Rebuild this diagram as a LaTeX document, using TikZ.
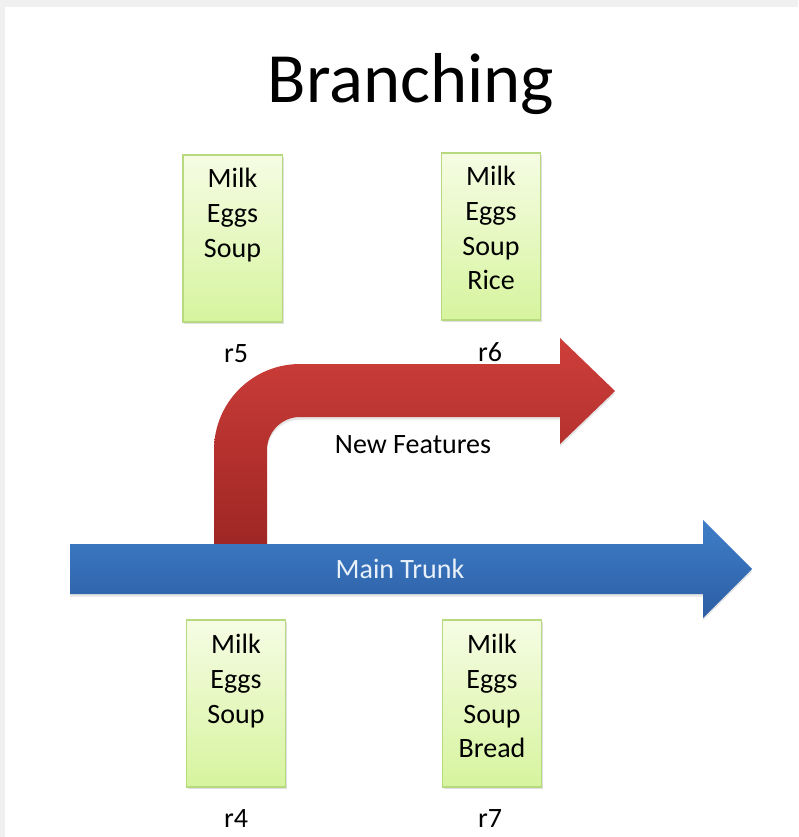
\documentclass[tikz,border=0pt]{standalone}
\usepackage{fontspec}
\setmainfont{Carlito}
\usetikzlibrary{shadows}
\definecolor{bggray}{RGB}{240,240,240}
\definecolor{boxtop}{RGB}{246,252,228}
\definecolor{boxbot}{RGB}{214,244,158}
\definecolor{boxline}{RGB}{184,218,126}
\definecolor{redtop}{RGB}{206,62,58}
\definecolor{redbot}{RGB}{158,38,36}
\definecolor{bluetop}{RGB}{62,126,200}
\definecolor{bluebot}{RGB}{44,94,164}
\definecolor{trunktext}{RGB}{232,240,250}
\tikzset{
 itembox/.style={draw=boxline, line width=1pt, top color=boxtop, bottom color=boxbot,
   minimum width=74.5pt, minimum height=125.25pt, inner sep=0pt,
   drop shadow={opacity=0.25, shadow xshift=1pt, shadow yshift=-1.5pt}},
 itemtext/.style={font=\fontsize{21}{26}\selectfont, align=center, inner sep=0pt, anchor=north},
 revlabel/.style={font=\fontsize{21}{26}\selectfont, anchor=base, inner sep=0pt},
 arrowshadow/.style={drop shadow={opacity=0.2, shadow xshift=0pt, shadow yshift=-2pt}},
}
\begin{document}
\begin{tikzpicture}[x=0.75pt,y=-0.75pt]
\useasboundingbox (0,0) rectangle (798,837);
\fill[bggray] (0,0) rectangle (798,837);
\fill[white] (5,7) rectangle (798,837);

% title
\node[font=\fontsize{53}{60}\selectfont, anchor=base, inner sep=0pt] (title) at (411,103) {Branching};

% top boxes
\node[itembox] (b5) at (232.5,238.5) {};
\node[itemtext] (t5) at (232.5,168) {Milk\\Eggs\\Soup};
\node[itembox] (b6) at (491,236.5) {};
\node[itemtext] (t6) at (491,166) {Milk\\Eggs\\Soup\\Rice};
\node[revlabel] (r5) at (236,362) {r5};
\node[revlabel] (r6) at (490,361) {r6};

% red branch arrow
\shade[top color=redtop, bottom color=redbot, arrowshadow]
  (214,548) -- (214,450)
  .. controls (214,402.5) and (252.5,364) .. (300,364)
  -- (560,364) -- (560,338) -- (615,391) -- (560,444) -- (560,417)
  -- (300,417)
  .. controls (281.8,417) and (267,431.8) .. (267,450)
  -- (267,548) -- cycle;
\node[revlabel] (nf) at (413,453) {New Features};

% blue trunk arrow
\shade[top color=bluetop, bottom color=bluebot, arrowshadow]
  (70,544) -- (703,544) -- (703,520) -- (752,569) -- (703,618) -- (703,594)
  -- (70,594) -- cycle;
\node[revlabel, text=trunktext] (mt) at (400,578) {Main Trunk};

% bottom boxes
\node[itembox] (b4) at (236,703.5) {};
\node[itemtext] (t4) at (236,634) {Milk\\Eggs\\Soup};
\node[itembox] (b7) at (492,703.5) {};
\node[itemtext] (t7) at (492,634) {Milk\\Eggs\\Soup\\Bread};
\node[revlabel] (r4) at (236,827) {r4};
\node[revlabel] (r7) at (490,827) {r7};
\end{tikzpicture}
\end{document}
